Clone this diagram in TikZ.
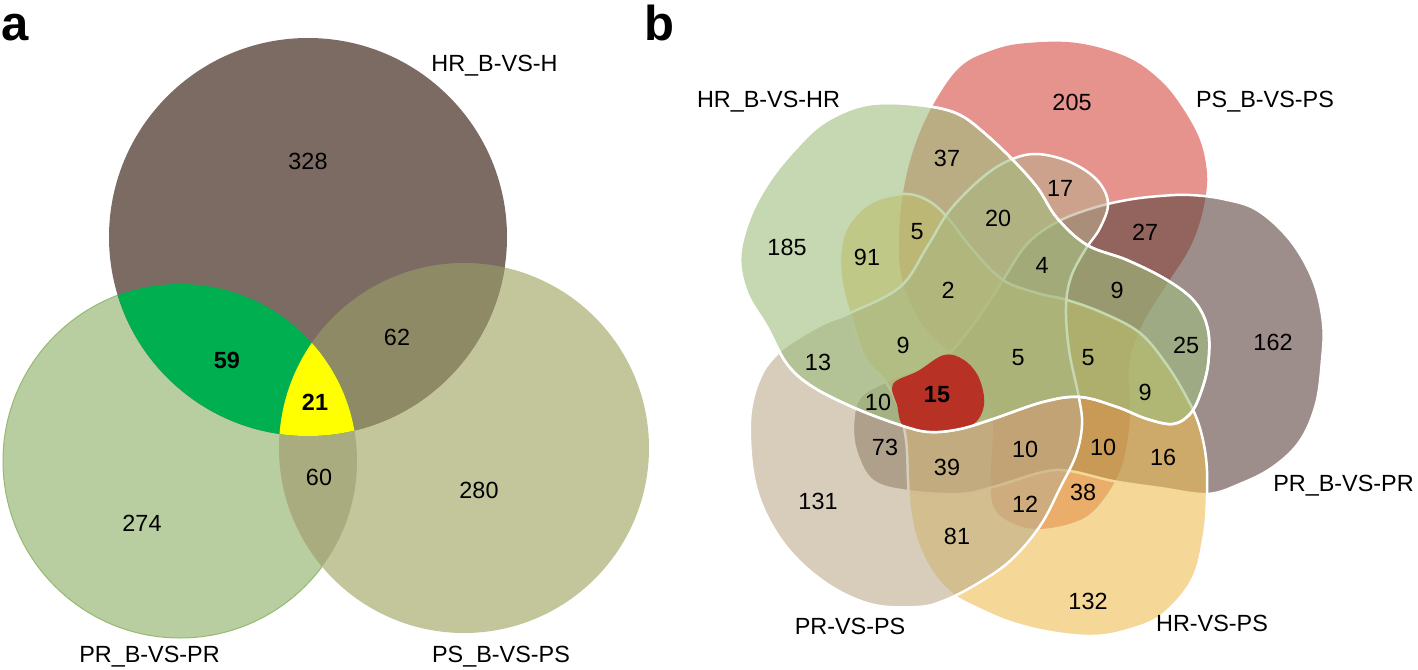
\documentclass[tikz,border=0pt]{standalone}
\usepackage{fontspec}
\setmainfont{Liberation Sans}
\definecolor{aTop}{RGB}{123,107,99}
\definecolor{aLeft}{RGB}{184,206,160}
\definecolor{aLeftEdge}{RGB}{150,185,115}
\definecolor{aRight}{RGB}{195,198,154}
\definecolor{a62}{RGB}{143,138,102}
\definecolor{a60}{RGB}{169,172,126}
\definecolor{a59}{RGB}{0,175,80}
\definecolor{a21}{RGB}{255,255,0}
\definecolor{sR}{RGB}{213,75,67}
\definecolor{sP}{RGB}{92,67,62}
\definecolor{sY}{RGB}{238,190,83}
\definecolor{sB}{RGB}{188,172,140}
\definecolor{sG}{RGB}{158,190,125}
\definecolor{s15}{RGB}{183,50,36}
\begin{document}
\begin{tikzpicture}[x=1pt,y=-1pt,
  num/.style={font=\fontsize{23.4}{28}\selectfont,inner sep=0pt},
  bnum/.style={font=\fontsize{23.4}{28}\selectfont\bfseries,inner sep=0pt},
  lab/.style={font=\fontsize{23.4}{28}\selectfont,inner sep=0pt,anchor=base},
  panel/.style={font=\fontsize{49}{54}\selectfont\bfseries,inner sep=0pt,anchor=base west},
  setfill/.style={fill=#1,fill opacity=0.6},
  setline/.style={draw=white,line width=2.5pt,line join=round},
]
\useasboundingbox (0,0) rectangle (1418,669);

% ---------------- panel a ----------------
\def\cTop{(308,237) circle[radius=199pt]}
\def\cLeft{(180,461) circle[radius=177pt]}
\def\cRight{(464,448) circle[radius=185pt]}
\fill[aLeft,draw=aLeftEdge,line width=1pt] \cLeft;
\fill[aRight] \cRight;
\fill[aTop] \cTop;
\begin{scope}\clip \cLeft; \fill[a60] \cRight; \end{scope}
\begin{scope}\clip \cTop; \fill[a62] \cRight; \end{scope}
\begin{scope}\clip \cTop; \fill[a59] \cLeft; \end{scope}
\begin{scope}\clip \cTop; \clip \cLeft; \fill[a21] \cRight; \end{scope}

\node[panel] (pa) at (1,41) {a};
\node[lab] (labHRBH) at (494.5,71) {HR\_B-VS-H};
\node[lab] (labPRBa) at (149.5,662) {PR\_B-VS-PR};
\node[lab] (labPSBa) at (501,662) {PS\_B-VS-PS};
\node[num] (a328) at (308,161) {328};
\node[bnum] (a59) at (227,360) {59};
\node[bnum] (a21) at (315,402) {21};
\node[num] (a62) at (397,337) {62};
\node[num] (a60) at (319,477) {60};
\node[num] (a274) at (142,523) {274};
\node[num] (a280) at (479,490) {280};

% ---------------- panel b ----------------
\def\sRed{plot[smooth cycle,tension=0.6] coordinates {(933,105) (960,67) (993,50) (1027,43) (1077,43) (1127,57) (1160,80) (1182,107) (1200,140) (1207,173) (1205,200) (1198,228) (1187,253) (1165,287) (1142,325) (1129,365) (1130,417) (1122,465) (1103,500) (1080,520) (1040,529) (1010,522) (993,505) (991,470) (993,421) (985,390) (968,362) (945,348) (918,318) (902,278) (899,240) (903,193) (914,148)}}
\def\sGrey{plot[smooth cycle,tension=0.6] coordinates {(1190,195) (1223,199) (1257,210) (1290,240) (1313,280) (1323,323) (1322,360) (1316,404) (1300,441) (1273,467) (1240,484) (1207,494) (1160,488) (1113,481) (1070,471) (1043,472) (993,487) (960,494) (907,491) (873,481) (857,454) (853,425) (860,397) (887,381) (920,368) (947,355) (967,333) (987,305) (1003,280) (1027,244) (1057,222) (1093,208) (1127,200) (1160,196)}}
\def\sYel{plot[smooth cycle,tension=0.6] coordinates {(840,257) (847,227) (870,203) (903,194) (927,200) (947,217) (973,250) (1003,280) (1037,293) (1067,300) (1103,313) (1140,333) (1167,365) (1187,398) (1199,425) (1206,458) (1207,494) (1204,535) (1192,580) (1162,615) (1128,630) (1093,636) (1050,632) (1010,622) (975,607) (952,594) (932,572) (917,541) (910,510) (908,480) (906,440) (898,406) (885,381) (865,358) (852,320) (843,290)}}
\def\sBei{plot[smooth cycle,tension=0.6] coordinates {(850,313) (900,287) (927,247) (950,210) (983,177) (1010,160) (1037,154) (1070,162) (1097,180) (1108,203) (1100,228) (1085,250) (1071,277) (1066,307) (1069,350) (1079,398) (1082,425) (1076,455) (1060,488) (1040,526) (1010,561) (975,585) (943,601) (917,607) (870,604) (823,581) (782,541) (756,487) (750,421) (760,378) (778,353) (800,337) (825,323)}}
\def\sGreen{plot[smooth cycle,tension=0.6] coordinates {(890,103) (933,107) (960,115) (982,131) (1010,157) (1037,187) (1057,218) (1087,245) (1127,260) (1167,280) (1195,302) (1208,330) (1208,365) (1200,395) (1190,414) (1173,424) (1147,419) (1117,407) (1080,397) (1043,402) (993,419) (960,429) (930,432) (903,426) (857,409) (813,387) (787,364) (767,327) (747,293) (740,257) (750,217) (770,180) (797,147) (823,123) (857,107)}}

\fill[setfill=sR] \sRed;
\path[setfill=sP,setline] \sGrey;
\path[setfill=sY,setline] \sYel;
\path[setfill=sB,setline] \sBei;
\path[setfill=sG,setline] \sGreen;
\fill[s15] plot[smooth cycle,tension=0.6] coordinates {(893,384) (918,371) (944,355) (964,360) (979,378) (984,405) (972,425) (940,432) (905,427) (897,405)};
\draw[white,line width=2.5pt,line join=round] \sGreen;

\node[panel] (pb) at (644,41) {b};
\node[lab] (labHRB) at (768.5,107) {HR\_B-VS-HR};
\node[lab] (labPSB) at (1265,107) {PS\_B-VS-PS};
\node[lab] (labPRB) at (1343.5,491) {PR\_B-VS-PR};
\node[lab] (labHRPS) at (1212,631) {HR-VS-PS};
\node[lab] (labPRPS) at (850,634) {PR-VS-PS};

\node[num] (b205) at (1072,102) {205};
\node[num] (b185) at (787,247) {185};
\node[num] (b37) at (947,158) {37};
\node[num] (b17) at (1060,188) {17};
\node[num] (b20) at (998,218) {20};
\node[num] (b5a) at (917,232) {5};
\node[num] (b91) at (867,257) {91};
\node[num] (b27) at (1145,232) {27};
\node[num] (b4) at (1042,265) {4};
\node[num] (b2) at (948,290) {2};
\node[num] (b9a) at (1117,290) {9};
\node[num] (b162) at (1273,342) {162};
\node[num] (b25) at (1186,345) {25};
\node[num] (b9b) at (903,345) {9};
\node[num] (b13) at (818,362) {13};
\node[num] (b5b) at (1018,358) {5};
\node[num] (b5c) at (1088,358) {5};
\node[bnum] (b15) at (937,395) {15};
\node[num] (b10a) at (878,402) {10};
\node[num] (b9c) at (1145,392) {9};
\node[num] (b73) at (885,447) {73};
\node[num] (b10b) at (1025,449) {10};
\node[num] (b10c) at (1103,447) {10};
\node[num] (b16) at (1163,457) {16};
\node[num] (b39) at (947,467) {39};
\node[num] (b131) at (818,501) {131};
\node[num] (b38) at (1083,492) {38};
\node[num] (b12) at (1025,504) {12};
\node[num] (b81) at (957,536) {81};
\node[num] (b132) at (1088,601) {132};
\end{tikzpicture}
\end{document}
